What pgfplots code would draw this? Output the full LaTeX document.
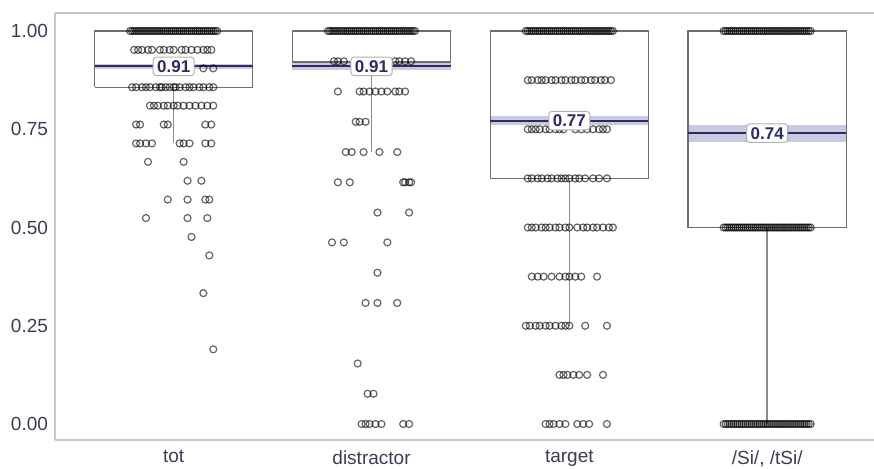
\documentclass[border=0pt]{standalone}
\usepackage{fontspec}
\setmainfont{Liberation Sans}
\usepackage{pgfplots}
\usepackage{pgfplotstable}
\pgfplotsset{compat=1.18}
\definecolor{navy}{HTML}{2B2B66}
\definecolor{band}{HTML}{C9C9DF}
\definecolor{ticktxt}{HTML}{3C3C55}
\definecolor{framec}{HTML}{C8C8C8}
\definecolor{boxc}{HTML}{6E6E6E}
\definecolor{whisk}{HTML}{8C8C8C}

% dense rows (many overlapping answers): value 1 in every group, 0.5 and 0 in /Si/, /tSi/
\pgfplotstableread{
dx top mid bot
-0.22 1 0.5 0
-0.21 1 0.5 0
-0.20 1 0.5 0
-0.19 1 0.5 0
-0.18 1 0.5 0
-0.17 1 0.5 0
-0.16 1 0.5 0
-0.15 1 0.5 0
-0.14 1 0.5 0
-0.13 1 0.5 0
-0.12 1 0.5 0
-0.11 1 0.5 0
-0.10 1 0.5 0
-0.09 1 0.5 0
-0.08 1 0.5 0
-0.07 1 0.5 0
-0.06 1 0.5 0
-0.05 1 0.5 0
-0.04 1 0.5 0
-0.03 1 0.5 0
-0.02 1 0.5 0
-0.01 1 0.5 0
0.00 1 0.5 0
0.01 1 0.5 0
0.02 1 0.5 0
0.03 1 0.5 0
0.04 1 0.5 0
0.05 1 0.5 0
0.06 1 0.5 0
0.07 1 0.5 0
0.08 1 0.5 0
0.09 1 0.5 0
0.10 1 0.5 0
0.11 1 0.5 0
0.12 1 0.5 0
0.13 1 0.5 0
0.14 1 0.5 0
0.15 1 0.5 0
0.16 1 0.5 0
0.17 1 0.5 0
0.18 1 0.5 0
0.19 1 0.5 0
0.20 1 0.5 0
0.21 1 0.5 0
0.22 1 0.5 0
}\dense

\pgfplotstableread{
dx y
-0.20 0.952
-0.18 0.952
-0.16 0.952
-0.13 0.952
-0.11 0.952
-0.07 0.952
-0.05 0.952
-0.02 0.952
0.00 0.952
0.04 0.952
0.06 0.952
0.09 0.952
0.12 0.952
0.15 0.952
0.17 0.952
0.19 0.952
-0.04 0.905
0.00 0.905
0.05 0.905
0.15 0.905
0.20 0.905
-0.21 0.857
-0.19 0.857
-0.16 0.857
-0.14 0.857
-0.12 0.857
-0.09 0.857
-0.07 0.857
-0.06 0.857
-0.04 0.857
-0.02 0.857
0.00 0.857
0.01 0.857
0.03 0.857
0.06 0.857
0.08 0.857
0.10 0.857
0.13 0.857
0.15 0.857
0.18 0.857
0.20 0.857
-0.12 0.810
-0.10 0.810
-0.08 0.810
-0.05 0.810
-0.03 0.810
0.00 0.810
0.02 0.810
0.05 0.810
0.08 0.810
0.11 0.810
0.14 0.810
0.17 0.810
0.20 0.810
-0.19 0.762
-0.17 0.762
-0.05 0.762
-0.03 0.762
0.16 0.762
0.19 0.762
-0.19 0.714
-0.17 0.714
-0.14 0.714
-0.11 0.714
0.03 0.714
0.05 0.714
0.08 0.714
0.16 0.714
0.19 0.714
-0.13 0.667
0.05 0.667
0.07 0.619
0.14 0.619
-0.03 0.571
0.07 0.571
0.16 0.571
0.18 0.571
-0.14 0.524
0.07 0.524
0.17 0.524
0.09 0.476
0.18 0.429
0.15 0.333
0.20 0.190
}\tot

\pgfplotstableread{
dx y
-0.19 0.923
-0.17 0.923
-0.14 0.923
-0.04 0.923
0.00 0.923
0.04 0.923
0.12 0.923
0.14 0.923
0.17 0.923
0.20 0.923
-0.17 0.846
-0.06 0.846
-0.04 0.846
-0.01 0.846
0.02 0.846
0.05 0.846
0.08 0.846
0.12 0.846
0.14 0.846
0.17 0.846
-0.08 0.769
-0.06 0.769
-0.03 0.769
-0.13 0.692
-0.10 0.692
-0.04 0.692
0.04 0.692
0.13 0.692
-0.17 0.615
-0.11 0.615
0.16 0.615
0.17 0.615
0.19 0.615
0.20 0.615
0.03 0.538
0.19 0.538
-0.20 0.462
-0.14 0.462
0.08 0.462
0.03 0.385
-0.03 0.308
0.03 0.308
0.13 0.308
-0.07 0.154
-0.02 0.077
0.01 0.077
-0.05 0.000
-0.03 0.000
-0.01 0.000
0.02 0.000
0.05 0.000
0.16 0.000
0.19 0.000
}\dis

\pgfplotstableread{
dx y
-0.21 0.875
-0.19 0.875
-0.16 0.875
-0.14 0.875
-0.12 0.875
-0.09 0.875
-0.07 0.875
-0.04 0.875
-0.02 0.875
0.01 0.875
0.03 0.875
0.06 0.875
0.08 0.875
0.11 0.875
0.13 0.875
0.16 0.875
0.18 0.875
0.21 0.875
-0.21 0.750
-0.19 0.750
-0.17 0.750
-0.15 0.750
-0.12 0.750
-0.10 0.750
-0.07 0.750
-0.05 0.750
-0.03 0.750
0.03 0.750
0.06 0.750
0.09 0.750
0.12 0.750
0.15 0.750
0.17 0.750
0.19 0.750
-0.21 0.625
-0.19 0.625
-0.16 0.625
-0.14 0.625
-0.11 0.625
-0.09 0.625
-0.06 0.625
-0.04 0.625
-0.02 0.625
0.00 0.625
0.03 0.625
0.05 0.625
0.08 0.625
0.12 0.625
0.15 0.625
0.19 0.625
-0.21 0.500
-0.19 0.500
-0.17 0.500
-0.14 0.500
-0.12 0.500
-0.10 0.500
-0.07 0.500
-0.05 0.500
-0.02 0.500
0.00 0.500
0.04 0.500
0.07 0.500
0.09 0.500
0.12 0.500
0.14 0.500
0.17 0.500
0.20 0.500
0.22 0.500
-0.19 0.375
-0.16 0.375
-0.13 0.375
-0.09 0.375
-0.05 0.375
-0.02 0.375
0.00 0.375
0.03 0.375
0.06 0.375
0.14 0.375
-0.22 0.250
-0.20 0.250
-0.17 0.250
-0.15 0.250
-0.12 0.250
-0.10 0.250
-0.07 0.250
-0.04 0.250
-0.02 0.250
0.00 0.250
0.08 0.250
0.19 0.250
-0.05 0.125
-0.03 0.125
-0.01 0.125
0.02 0.125
0.05 0.125
0.09 0.125
0.17 0.125
-0.12 0.000
-0.10 0.000
-0.08 0.000
-0.05 0.000
-0.02 0.000
0.04 0.000
0.07 0.000
0.10 0.000
0.19 0.000
}\tar

\begin{document}
\begin{tikzpicture}
\begin{axis}[
  scale only axis, width=409.5pt, height=213.5pt,
  xmin=-0.6, xmax=3.54, ymin=-0.0407, ymax=1.0458,
  axis x line=box, axis y line=left,
  axis line style={draw=framec, line width=1pt, -},
  x axis line style={-}, y axis line style={-},
  xtick={0,1,2,3}, xticklabels={tot, distractor, target, {/Si/, /tSi/}},
  ytick={0,0.25,0.5,0.75,1},
  yticklabel style={/pgf/number format/fixed, /pgf/number format/fixed zerofill, /pgf/number format/precision=2},
  /pgf/number format/assume math mode=true,
  tick label style={font=\fontsize{9.5}{11}\selectfont, text=ticktxt},
  xticklabel style={yshift=-1.8pt},
  major tick length=0pt,
  clip=false,
]
% mean bands
\addplot[fill=band, draw=none] coordinates {(-0.4,0.903) (0.4,0.903) (0.4,0.917) (-0.4,0.917)};
\addplot[fill=band, draw=none] coordinates {(0.6,0.90) (1.4,0.90) (1.4,0.92) (0.6,0.92)};
\addplot[fill=band, draw=none] coordinates {(1.6,0.760) (2.4,0.760) (2.4,0.784) (1.6,0.784)};
\addplot[fill=band, draw=none] coordinates {(2.6,0.718) (3.4,0.718) (3.4,0.762) (2.6,0.762)};
% boxes
\addplot[draw=boxc, line width=0.6pt] coordinates {(-0.4,0.857) (0.4,0.857) (0.4,1) (-0.4,1) (-0.4,0.857)};
\addplot[draw=boxc, line width=0.6pt] coordinates {(0.6,0.921) (1.4,0.921) (1.4,1) (0.6,1) (0.6,0.921)};
\addplot[draw=boxc, line width=0.6pt] coordinates {(1.6,0.625) (2.4,0.625) (2.4,1) (1.6,1) (1.6,0.625)};
\addplot[draw=boxc, line width=0.6pt] coordinates {(2.6,0.5) (3.4,0.5) (3.4,1) (2.6,1) (2.6,0.5)};
% means
\addplot[navy, line width=1pt] coordinates {(-0.4,0.91) (0.4,0.91)};
\addplot[navy, line width=1pt] coordinates {(0.6,0.91) (1.4,0.91)};
\addplot[navy, line width=1pt] coordinates {(1.6,0.772) (2.4,0.772)};
\addplot[navy, line width=1pt] coordinates {(2.6,0.74) (3.4,0.74)};
% whiskers
\addplot[whisk, line width=0.7pt] coordinates {(0,0.857) (0,0.714)};
\addplot[whisk, line width=0.7pt] coordinates {(1,0.921) (1,0.692)};
\addplot[whisk, line width=0.7pt] coordinates {(2,0.625) (2,0.25)};
\addplot[whisk, line width=0.7pt] coordinates {(3,0.5) (3,0)};
% points
\pgfplotsset{jit/.style={only marks, mark=o, mark size=1.75pt, mark options={draw=black, draw opacity=0.6, line width=0.6pt}}}
\addplot[jit] table[x expr=\thisrow{dx}, y=top] {\dense};
\addplot[jit] table[x expr=\thisrow{dx}+1, y=top] {\dense};
\addplot[jit] table[x expr=\thisrow{dx}+2, y=top] {\dense};
\addplot[jit] table[x expr=\thisrow{dx}+3, y=top] {\dense};
\addplot[jit] table[x expr=\thisrow{dx}+3, y=mid] {\dense};
\addplot[jit] table[x expr=\thisrow{dx}+3, y=bot] {\dense};
\addplot[jit] table[x expr=\thisrow{dx}, y=y] {\tot};
\addplot[jit] table[x expr=\thisrow{dx}+1, y=y] {\dis};
\addplot[jit] table[x expr=\thisrow{dx}+2, y=y] {\tar};
% labels
\addplot[draw=none, mark=none, nodes near coords, point meta=explicit symbolic,
  every node near coord/.append style={anchor=center, fill=white, draw=gray!60, rounded corners=1.5pt,
    font=\bfseries\fontsize{8.5}{10}\selectfont, text=navy, inner xsep=2pt, inner ysep=1.6pt, line width=0.5pt}]
  coordinates {(0,0.91)[0.91] (1,0.91)[0.91] (2,0.772)[0.77] (3,0.74)[0.74]};
\end{axis}
\pgfresetboundingbox
\path[use as bounding box] ([xshift=-27.5pt,yshift=-14pt]current axis.south west) rectangle ([yshift=6.5pt]current axis.north east);
\end{tikzpicture}
\end{document}
